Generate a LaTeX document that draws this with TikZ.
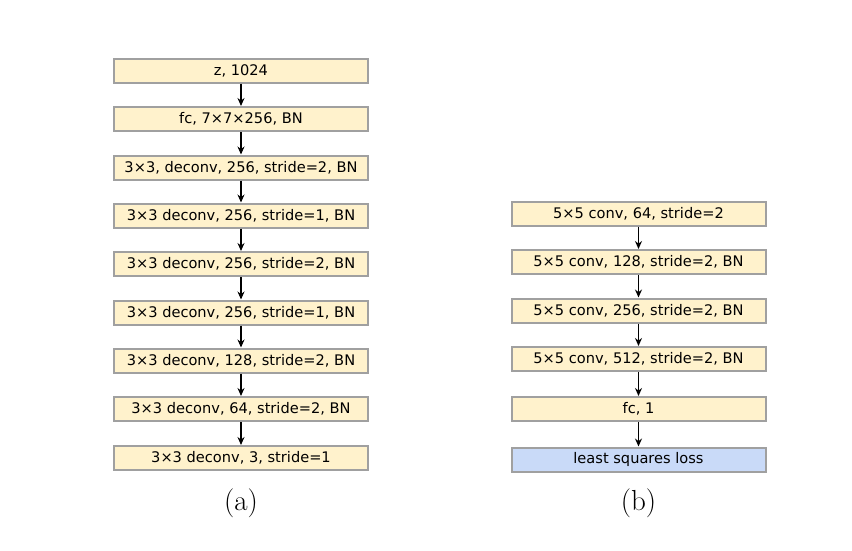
\documentclass[tikz,border=0pt]{standalone}
\usepackage{fontspec}
\newfontfamily\boxfont{DejaVu Sans}
\usetikzlibrary{arrows.meta}
\definecolor{boxyellow}{HTML}{FFF2CC}
\definecolor{boxblue}{HTML}{C9DAF8}
\definecolor{boxedge}{HTML}{A0A0A0}
\tikzset{
  layer/.style={draw=boxedge, line width=2pt, fill=boxyellow, minimum width=254pt, minimum height=24pt, inner sep=0pt, font=\boxfont\fontsize{14.6}{16}\selectfont},
  lossbox/.style={layer, fill=boxblue},
  flow/.style={-{Stealth[length=8pt,width=7pt]}, line width=1.3pt, black},
  caption/.style={font=\fontsize{29}{34}\selectfont}
}
\begin{document}
\begin{tikzpicture}[x=1pt,y=-1pt]
\useasboundingbox (0,0) rectangle (852,550);
% left column
\node[layer] (a1) at (241,70.5) {z, 1024};
\node[layer] (a2) at (241,119) {fc, 7×7×256, BN};
\node[layer] (a3) at (241,167.5) {3×3, deconv, 256, stride=2, BN};
\node[layer] (a4) at (241,215.5) {3×3 deconv, 256, stride=1, BN};
\node[layer] (a5) at (241,264) {3×3 deconv, 256, stride=2, BN};
\node[layer] (a6) at (241,312.5) {3×3 deconv, 256, stride=1, BN};
\node[layer] (a7) at (241,360.5) {3×3 deconv, 128, stride=2, BN};
\node[layer] (a8) at (241,409) {3×3 deconv, 64, stride=2, BN};
\node[layer] (a9) at (241,458) {3×3 deconv, 3, stride=1};
\foreach \i/\j in {a1/a2,a2/a3,a3/a4,a4/a5,a5/a6,a6/a7,a7/a8,a8/a9}
  \draw[flow] (\i) -- (\j);
\node[caption] (capa) at (241,503) {(a)};
% right column
\node[layer] (b1) at (638.5,213.5) {5×5 conv, 64, stride=2};
\node[layer] (b2) at (638.5,262) {5×5 conv, 128, stride=2, BN};
\node[layer] (b3) at (638.5,310.5) {5×5 conv, 256, stride=2, BN};
\node[layer] (b4) at (638.5,359) {5×5 conv, 512, stride=2, BN};
\node[layer] (b5) at (638.5,409) {fc, 1};
\node[lossbox] (b6) at (638.5,459.5) {least squares loss};
\foreach \i/\j in {b1/b2,b2/b3,b3/b4,b4/b5,b5/b6}
  \draw[flow] (\i) -- (\j);
\node[caption] (capb) at (638.5,503) {(b)};
\end{tikzpicture}
\end{document}
